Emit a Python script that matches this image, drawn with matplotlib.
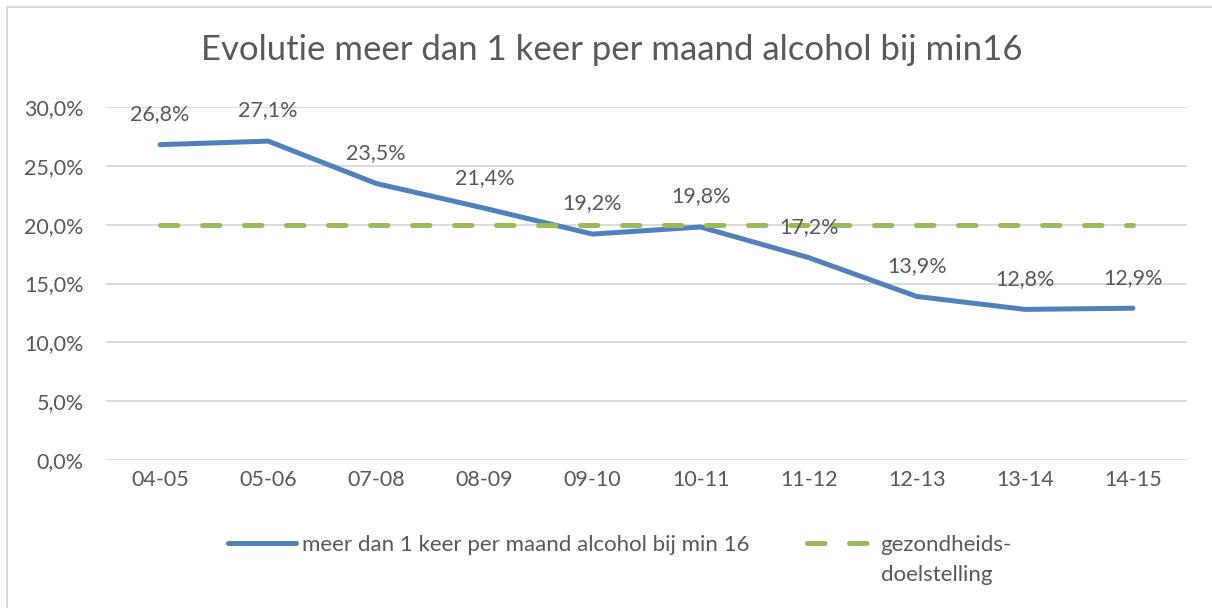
import matplotlib.pyplot as plt
from matplotlib.patches import Rectangle
from matplotlib.ticker import FuncFormatter

plt.rcParams['font.family'] = ['Lato', 'DejaVu Sans']

# schooljaren en percentages
jaren = ['04-05', '05-06', '07-08', '08-09', '09-10', '10-11', '11-12', '12-13', '13-14', '14-15']
alcohol = [26.8, 27.1, 23.5, 21.4, 19.2, 19.8, 17.2, 13.9, 12.8, 12.9]
doel = [20.0] * len(jaren)

blauw = '#4F81BD'
groen = '#9BBB59'
grijs = '#595959'

fig = plt.figure(figsize=(12.12, 6.08), dpi=100)
fig.patches.append(Rectangle((7 / 1212, -0.1), 1.2, (608 - 7) / 608 + 0.1,
                             transform=fig.transFigure, fill=False,
                             edgecolor='#D9D9D9', linewidth=1.5))

ax = fig.add_axes([106 / 1212, 148 / 608, 1081 / 1212, 353 / 608])
x = list(range(len(jaren)))

ax.plot(x, alcohol, color=blauw, linewidth=3.6, solid_capstyle='round',
        solid_joinstyle='round', label='meer dan 1 keer per maand alcohol bij min 16')
ax.plot(x, doel, color=groen, linewidth=3.6, dashes=(3.5, 4.9), dash_capstyle='round',
        label='gezondheids-')

for xi, v in zip(x, alcohol):
    ax.annotate(f'{v:.1f}%'.replace('.', ','), (xi, v), xytext=(0, 22),
                textcoords='offset points', ha='center', va='center',
                fontsize=15.5, color=grijs)

ax.set_xlim(-0.5, len(jaren) - 0.5)
ax.set_ylim(0, 30)
ax.set_yticks([0, 5, 10, 15, 20, 25, 30])
ax.yaxis.set_major_formatter(FuncFormatter(lambda v, p: f'{v:.1f}%'.replace('.', ',')))
ax.set_xticks(x)
ax.set_xticklabels(jaren)
ax.tick_params(axis='y', length=0, pad=16, labelsize=15.5, labelcolor=grijs)
ax.tick_params(axis='x', length=0, pad=7, labelsize=15.5, labelcolor=grijs)
ax.grid(axis='y', color='#D9D9D9', linewidth=1.3)
ax.set_axisbelow(True)
for s in ax.spines.values():
    s.set_visible(False)

fig.text(612 / 1212, 1 - 50 / 608, 'Evolutie meer dan 1 keer per maand alcohol bij min16',
         ha='center', va='center', fontsize=25, color=grijs)

leg = fig.legend(loc='center', bbox_to_anchor=(620 / 1212, 1 - 545 / 608), ncol=2,
                 frameon=False, fontsize=16, handlelength=3.06, handletextpad=0.27,
                 columnspacing=2.57, borderpad=0)
for t in leg.get_texts():
    t.set_color(grijs)

# tweede regel van het legendalabel onder 'gezondheids-'
fig.canvas.draw()
bb = leg.get_texts()[1].get_window_extent().transformed(fig.transFigure.inverted())
fig.text(bb.x0, bb.y0 - 0.017, 'doelstelling', ha='left', va='top', fontsize=16, color=grijs)

fig.savefig('out.png', dpi=100)
